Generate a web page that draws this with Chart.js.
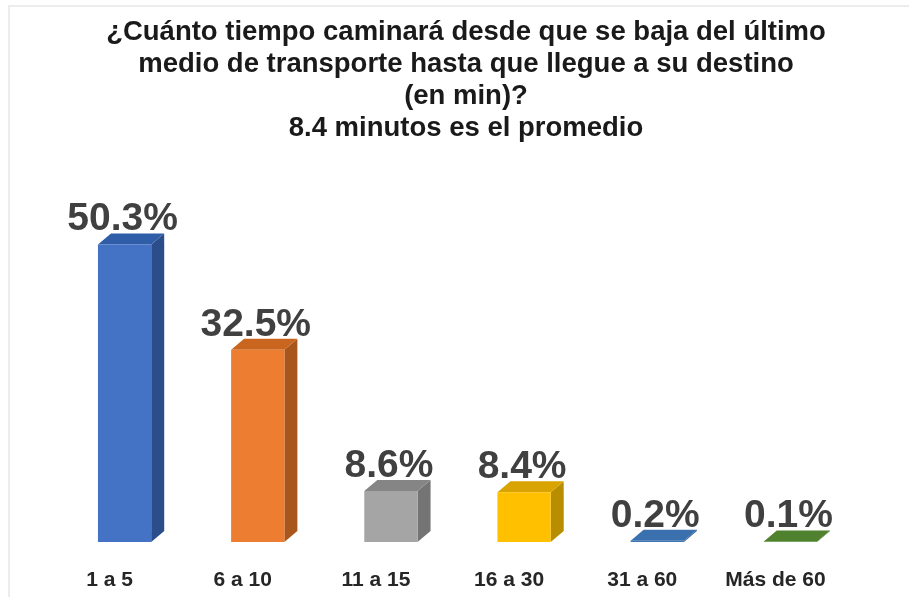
<!DOCTYPE html>
<html>
<head>
<meta charset="utf-8">
<style>
  html, body { margin: 0; padding: 0; background: #fff; overflow: hidden; width: 909px; height: 597px; }
  #frame { position: absolute; left: 8px; top: 5px; width: 916px; height: 592px; border-left: 2px solid #ececec; border-top: 2px solid #ececec; box-sizing: border-box; }
  canvas { position: absolute; left: -2px; top: -2px; filter: blur(0.6px); }
</style>
</head>
<body>
<div id="frame"><canvas id="grafico" width="916" height="592"></canvas></div>
<script src="https://cdn.jsdelivr.net/npm/chart.js@4"></script>
<script>
const categorias = ['1 a 5', '6 a 10', '11 a 15', '16 a 30', '31 a 60', 'Más de 60'];
const porcentajes = [50.3, 32.5, 8.6, 8.4, 0.2, 0.1];
const tituloLineas = [
  '¿Cuánto tiempo caminará desde que se baja del último',
  'medio de transporte hasta que llegue a su destino',
  '(en min)?',
  '8.4 minutos es el promedio'
];

const colorFrente = ['#4472c4', '#ed7d31', '#a5a5a5', '#ffc000', '#3f75b2', '#548a32'];
const colorTapa = ['#2f5da8', '#c9651f', '#858585', '#d9a300', '#3a70ad', '#4f812e'];
const colorLado = ['#2b4d8a', '#a9561d', '#747474', '#b98d00', '#2f5d92', '#3f6a25'];

// caras de arriba y lateral de cada barra (falso 3D)
const caras3d = {
  id: 'caras3d',
  beforeDatasetsDraw(chart) {
    const c = chart.ctx;
    chart.getDatasetMeta(0).data.forEach((bar, i) => {
      const izq = bar.x - bar.width / 2, der = bar.x + bar.width / 2;
      const fx = 13, fy = 11;
      c.fillStyle = colorLado[i];
      c.beginPath();
      c.moveTo(der, bar.y);
      c.lineTo(der + fx, bar.y - fy);
      c.lineTo(der + fx, bar.base - fy);
      c.lineTo(der, bar.base);
      c.closePath();
      c.fill();
      c.fillStyle = colorTapa[i];
      c.beginPath();
      c.moveTo(izq, bar.y);
      c.lineTo(izq + fx, bar.y - fy);
      c.lineTo(der + fx, bar.y - fy);
      c.lineTo(der, bar.y);
      c.closePath();
      c.fill();
    });
  },
  afterDatasetsDraw(chart) {
    const c = chart.ctx;
    c.save();
    c.font = 'bold 39px "Liberation Sans"';
    c.fillStyle = '#404040';
    c.textAlign = 'center';
    c.textBaseline = 'alphabetic';
    chart.getDatasetMeta(0).data.forEach((bar, i) => {
      c.fillText(porcentajes[i].toFixed(1) + '%', bar.x - 2, bar.y - 14);
    });
    c.restore();
  }
};

new Chart(document.getElementById('grafico').getContext('2d'), {
  type: 'bar',
  data: {
    labels: categorias,
    datasets: [{
      data: porcentajes,
      backgroundColor: colorFrente,
      categoryPercentage: 1,
      barPercentage: 0.4
    }]
  },
  options: {
    responsive: false,
    animation: false,
    layout: { padding: 0 },
    plugins: {
      legend: { display: false },
      tooltip: { enabled: false },
      title: {
        display: true,
        text: tituloLineas,
        color: '#1a1a1a',
        font: { family: '"Liberation Sans"', size: 27.5, weight: 'bold', lineHeight: 1.164 },
        padding: { top: 11, bottom: 43 }
      }
    },
    scales: {
      x: {
        grid: { display: false },
        border: { display: false },
        ticks: {
          color: '#262626',
          padding: 18,
          labelOffset: -15,
          maxRotation: 0,
          font: { family: '"Liberation Sans"', size: 21, weight: 'bold' }
        },
        afterFit(s) { s.height = 55; }
      },
      y: {
        min: 0,
        max: 60,
        ticks: { display: false },
        grid: { display: false },
        border: { display: false },
        afterFit(s) { s.width = 50; }
      },
      y2: {
        position: 'right',
        min: 0,
        max: 60,
        ticks: { display: false },
        grid: { display: false },
        border: { display: false },
        afterFit(s) { s.width = 67; }
      }
    }
  },
  plugins: [caras3d]
});
</script>
</body>
</html>
